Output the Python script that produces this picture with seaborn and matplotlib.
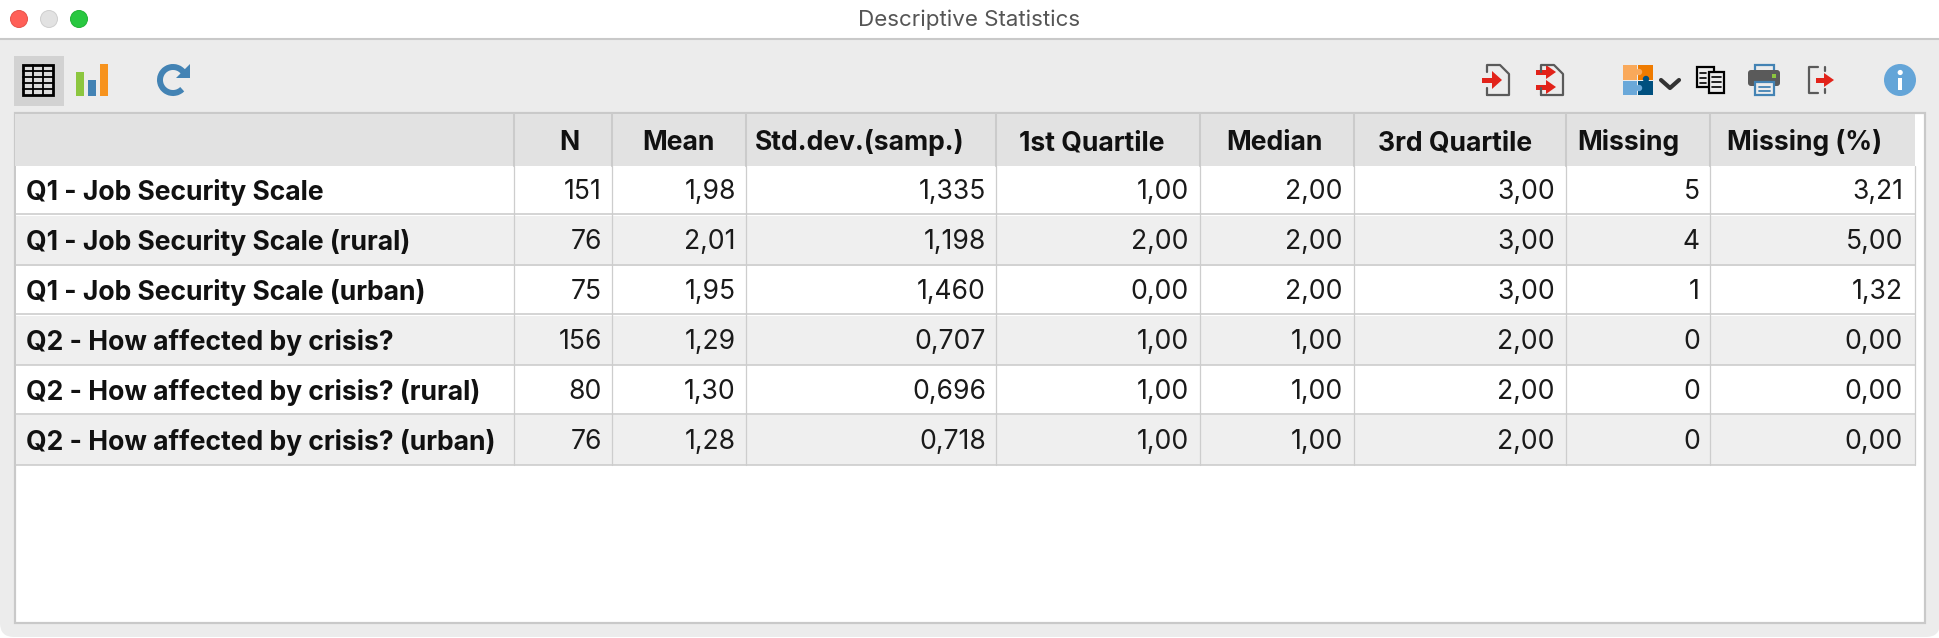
import numpy as np
import pandas as pd
import matplotlib
matplotlib.use("Agg")
import matplotlib.pyplot as plt
import seaborn as sns
from matplotlib.colors import ListedColormap
from matplotlib.patches import Rectangle, Circle, Polygon, FancyBboxPatch, Arc

# # # DATA
variables = ["Q1 - Job Security Scale", "Q1 - Job Security Scale (rural)", "Q1 - Job Security Scale (urban)",
             "Q2 - How affected by crisis?", "Q2 - How affected by crisis? (rural)", "Q2 - How affected by crisis? (urban)"]
n_vals = ["151", "76", "75", "156", "80", "76"]
mean_vals = ["1,98", "2,01", "1,95", "1,29", "1,30", "1,28"]
std_vals = ["1,335", "1,198", "1,460", "0,707", "0,696", "0,718"]
q1_vals = ["1,00", "2,00", "0,00", "1,00", "1,00", "1,00"]
median_vals = ["2,00", "2,00", "2,00", "1,00", "1,00", "1,00"]
q3_vals = ["3,00", "3,00", "3,00", "2,00", "2,00", "2,00"]
missing_vals = ["5", "4", "1", "0", "0", "0"]
missing_pct = ["3,21", "5,00", "1,32", "0,00", "0,00", "0,00"]
headers = ["N", "Mean", "Std.dev.(samp.)", "1st Quartile", "Median", "3rd Quartile", "Missing", "Missing (%)"]

# # # LAYOUT (pixels)
W, H = 1940, 638
col_edges = [514, 612, 746, 996, 1200, 1354, 1566, 1710, 1915]
header_x = [569, 678, 860, 1092, 1274, 1455, 1628, 1805]
text_pad = [10, 10, 10, 11, 11, 11, 10, 12]
row_lines = [166, 214, 265, 314, 365, 414, 465]
FONT = "Inter"
LINE = "#cdcdcd"
FS = 19.1

sns.set_theme(style="white")
plt.rcParams["font.family"] = [FONT, "DejaVu Sans"]

df = pd.DataFrame({"N": n_vals, "Mean": mean_vals, "Std": std_vals, "Q1": q1_vals, "Median": median_vals,
                   "Q3": q3_vals, "Missing": missing_vals, "Pct": missing_pct}, index=variables)

fig = plt.figure(figsize=(W / 100, H / 100), dpi=100, facecolor="white")


def px_axes(z):
    a = fig.add_axes([0, 0, 1, 1], zorder=z)
    a.set_xlim(0, W)
    a.set_ylim(H, 0)
    a.axis("off")
    a.patch.set_alpha(0)
    return a


# window background
back = px_axes(0)
back.add_patch(FancyBboxPatch((0, 0), W, H - 1, boxstyle="round,pad=0,rounding_size=14", fc="#ececec", ec="none"))
back.add_patch(Rectangle((0, 0), W, 38.5, fc="white", ec="none"))
back.plot([0, W], [38.5, 38.5], color="#c9c9c9", lw=1.5)
back.add_patch(Rectangle((15, 113), 1910, 510, fc="white", ec="#c9c9c9", lw=1.6))
back.add_patch(Rectangle((15.5, 114), 1900, 52, fc="#e2e2e2", ec="none"))

# striped rows
stripes = pd.DataFrame({"row": [i % 2 for i in range(len(df))]}, index=df.index)
hm = fig.add_axes([16 / W, 1 - 465 / H, (1915 - 16) / W, (465 - 166) / H], zorder=1)
sns.heatmap(stripes, ax=hm, cmap=ListedColormap(["#ffffff", "#efefef"]), cbar=False,
            xticklabels=False, yticklabels=False, vmin=0, vmax=1)
hm.set_xlabel("")
hm.set_ylabel("")

top = px_axes(2)

# grid lines
for y in row_lines[1:]:
    top.plot([16, 1915], [y, y], color=LINE, lw=1.2)
for x in col_edges:
    top.plot([x, x], [166, 465], color=LINE, lw=0.9)
    if x != col_edges[-1]:
        top.plot([x, x], [114, 166], color="#cbcbcb", lw=1.5)

# table text
for x, h in zip(header_x, headers):
    top.text(x, 143, h, ha="center", va="center", fontsize=FS, fontweight="bold", color="#111111")
row_mid = [192, 242, 292, 342, 392, 442]
for i, name in enumerate(df.index):
    top.text(26, row_mid[i], name, ha="left", va="center", fontsize=FS, fontweight="bold", color="#111111")
    for j, col in enumerate(df.columns):
        top.text(col_edges[j + 1] - text_pad[j], row_mid[i], df.loc[name, col], ha="right", va="center",
                 fontsize=FS, color="#1a1a1a")

# title bar
top.text(969, 20, "Descriptive Statistics", ha="center", va="center", fontsize=16.1, color="#555555")
for cx, fc, ec in [(19, "#ff5f57", "#e5534b"), (49, "#e2e2e2", "#cfcfcf"), (79, "#28c840", "#22b336")]:
    top.add_patch(Circle((cx, 19), 8.5, fc=fc, ec=ec, lw=0.7))

# left toolbar icons
top.add_patch(Rectangle((14, 56), 50, 50, fc="#d2d2d2", ec="none"))
top.add_patch(Rectangle((23, 65), 30, 30, fc="#dcdcdc", ec="black", lw=2))
for gx in [33, 43]:
    top.plot([gx, gx], [65, 95], color="black", lw=1.3)
for gy in [71, 77, 83, 89]:
    top.plot([23, 53], [gy, gy], color="black", lw=1.3)
for bx, by, c in [(76, 72, "#8cc63f"), (88, 80, "#4383b4"), (100, 64, "#f7931e")]:
    top.add_patch(Rectangle((bx, by), 8, 96 - by, fc=c, ec="none"))
top.add_patch(Arc((173, 80), 26, 26, theta1=45, theta2=325, color="#4383b4", lw=4.3))
top.add_patch(Polygon([(190, 64), (190, 78), (176, 78)], fc="#4383b4", ec="none"))


def file_icon(x0, x1):
    top.plot([x0, x0, x1 - 9, x1, x1, x0], [72, 65, 65, 74, 95, 95], color="#5a5a5a", lw=1.6)
    top.plot([x0, x0], [88, 95], color="#5a5a5a", lw=1.6)


def red_arrow(x0, x1, y, hw=9):
    top.add_patch(Rectangle((x0, y - 2.5), x1 - x0 - 8, 5, fc="#e2231a", ec="none"))
    top.add_patch(Polygon([(x1 - 10, y - hw), (x1, y), (x1 - 10, y + hw)], fc="#e2231a", ec="none"))


file_icon(1487, 1509)
red_arrow(1482, 1502, 80)
file_icon(1541, 1563)
red_arrow(1536, 1556, 72, 7)
red_arrow(1536, 1556, 87, 7)

# puzzle icon
for px, py, pw, ph, c in [(1623, 65, 14.5, 14.5, "#f9a95b"), (1638.5, 65, 14.5, 14.5, "#ef7b00"),
                          (1623, 80.5, 14.5, 14.5, "#6aa8d9"), (1638.5, 80.5, 14.5, 14.5, "#00507f")]:
    top.add_patch(Rectangle((px, py), pw, ph, fc=c, ec="none"))
# interlocking tabs
for cx, cy, c in [(1639, 72, "#f9a95b"), (1646, 79, "#00507f"), (1639, 88, "#6aa8d9")]:
    top.add_patch(Circle((cx, cy), 3.2, fc=c, ec="none"))
top.plot([1661, 1670, 1679], [80, 88, 80], color="#333333", lw=3, solid_capstyle="round")

# copy icon
top.add_patch(Rectangle((1697, 67), 17, 20, fc="none", ec="black", lw=1.6))
top.add_patch(Rectangle((1709, 72), 15, 21, fc="#ececec", ec="black", lw=1.6))
for ly in [73, 78, 83]:
    top.plot([1700, 1706], [ly, ly], color="black", lw=1.2)
for ly in [77, 82, 87]:
    top.plot([1712, 1721], [ly, ly], color="black", lw=1.2)

# printer icon
top.add_patch(Rectangle((1755, 65), 19, 8, fc="#ececec", ec="#4383b4", lw=1.6))
top.add_patch(FancyBboxPatch((1748, 70), 32, 16, boxstyle="round,pad=0,rounding_size=3", fc="#5a5a5a", ec="none"))
top.add_patch(Rectangle((1755, 82), 19, 13, fc="#ececec", ec="#4383b4", lw=1.6))
top.plot([1759, 1770], [87, 87], color="#4383b4", lw=1.3)
top.plot([1759, 1770], [91, 91], color="#4383b4", lw=1.3)
top.add_patch(Rectangle((1772, 74), 4, 4, fc="#8cc63f", ec="none"))

# exit icon
top.plot([1818, 1809, 1809, 1818], [67, 67, 93, 93], color="#5a5a5a", lw=1.6)
top.plot([1825, 1825], [67, 71], color="#5a5a5a", lw=1.6)
top.plot([1825, 1825], [89, 93], color="#5a5a5a", lw=1.6)
red_arrow(1816, 1834, 80, 7)

# info icon
top.add_patch(Circle((1900, 80), 16, fc="#64a5d8", ec="none"))
top.add_patch(Rectangle((1898, 78), 4.5, 12, fc="white", ec="none"))
top.add_patch(Circle((1900.2, 72.5), 2.6, fc="white", ec="none"))

fig.savefig("out.png", dpi=100)
